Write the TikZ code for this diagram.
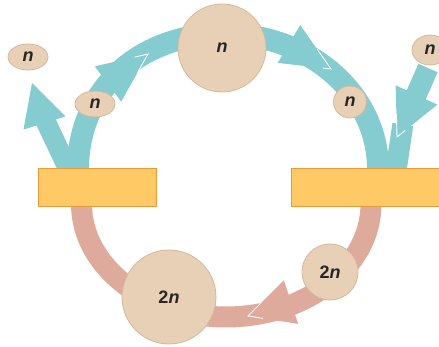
\documentclass[tikz,border=0pt]{standalone}
\usepackage{fontspec}
\setmainfont{Liberation Sans}
\usetikzlibrary{shapes.geometric,calc}
\definecolor{tealb}{RGB}{132,204,207}
\definecolor{pinkb}{RGB}{222,170,155}
\definecolor{tanf}{RGB}{232,208,182}
\definecolor{tand}{RGB}{212,184,154}
\definecolor{rectf}{RGB}{255,201,102}
\definecolor{rectd}{RGB}{232,154,60}
\pgfdeclarelayer{background}
\pgfsetlayers{background,main}
\begin{document}
\begin{tikzpicture}[x=1pt,y=-1pt,
  tband/.style={draw=tealb,line width=22pt},
  pband/.style={draw=pinkb,line width=21pt},
  ball/.style={circle,fill=tanf,draw=tand,line width=0.8pt,inner sep=0pt,text=black!85,font=\bfseries\fontsize{18}{18}\selectfont},
  egg/.style={ellipse,fill=tanf,draw=tand,line width=0.8pt,inner sep=0pt,text=black!85,font=\bfseries\fontsize{18}{18}\selectfont},
  slab/.style={rectangle,fill=rectf,draw=rectd,line width=0.8pt,inner sep=0pt,minimum height=38pt},
  hl/.style={draw=white,line width=0.9pt,line join=miter}]
\useasboundingbox (0,0) rectangle (439,347);
% nodes
\node[slab,minimum width=118pt] (L) at (97,187) {};
\node[slab,minimum width=150pt] (R) at (366,187) {};
\node[ball,minimum size=88pt] (N1) at (222,48) {\textit{n}};
\node[ball,minimum size=94pt] (B2) at (169,297) {2\textit{n}};
\node[ball,minimum size=56pt] (S2) at (330,272) {2\textit{n}};
\node[egg,minimum width=40pt,minimum height=26pt] (N0) at (28,57) {\textit{n}};
\node[egg,minimum width=40pt,minimum height=26pt] (N2) at (95,104) {\textit{n}};
\node[egg,minimum width=33pt,minimum height=32pt] (N3) at (350,102) {\textit{n}};
\node[egg,minimum width=36pt,minimum height=30pt] (N4) at (430,50) {\textit{n}};
% coordinates
\coordinate (a0) at ($(L.north west)!0.34!(L.north east)+(0,2)$);
\coordinate (a1) at ($(R.north west)!0.58!(R.north east)+(0,2)$);
\coordinate (top) at (224,34);
\coordinate (p0) at ($(L.south west)!0.37!(L.south east)+(0,-2)$);
\coordinate (p1) at ($(R.south west)!0.533!(R.south east)+(0,-2)$);
\coordinate (bot) at (226,317);
\coordinate (lb0) at ($(L.north west)!0.26!(L.north east)+(0,2)$);
\coordinate (lbB) at (44.5,123);
\coordinate (lbT) at (32,83);
\coordinate (riS) at (428,68);
\coordinate (riB) at (416.5,95);
\coordinate (riT) at (397,137);
\coordinate (ri1) at ($(R.north west)!0.70!(R.north east)+(0,2)$);
\coordinate (B1) at (108,84);
\coordinate (T1) at (148,54);
\coordinate (B3) at (289,44);
\coordinate (T3) at (331,69);
\coordinate (B4) at (291,302);
\coordinate (T4) at (248,316);
\begin{pgfonlayer}{background}
% teal cycle part
\draw[tband] (a0) .. controls +(0,-79) and +(-86,0) .. (top) .. controls +(85,0) and +(0,-76) .. (a1);
% pink cycle part
\draw[pband] (p0) .. controls +(0,62) and +(-79,0) .. (bot) .. controls +(80,0) and +(0,62) .. (p1);
% left branch (outgoing)
\draw[tband,line width=20pt] (lb0) -- ($(lbB)!0.3!(lbT)$);
\fill[tealb] (lbT) -- ($(lbB)!22pt!90:(lbT)$) -- ($(lbB)!22pt!-90:(lbT)$) -- cycle;
% right branch (incoming)
\draw[tband,line width=21pt] (riS) -- ($(riB)!0.3!(riT)$);
\draw[tband,line width=21pt] ($(riB)!0.7!(riT)$) -- (ri1);
\fill[tealb] (riT) -- ($(riB)!23pt!90:(riT)$) -- ($(riB)!23pt!-90:(riT)$) -- cycle;
\draw[hl] ($(riT)!0.45!($(riB)!23pt!-90:(riT)$)$) -- (riT) -- ($(riT)!0.2!($(riB)!23pt!90:(riT)$)$);
% arrowheads on the cycle
\fill[tealb] (T1) -- ($(B1)!22pt!90:(T1)$) -- ($(B1)!22pt!-90:(T1)$) -- cycle;
\draw[hl] ($(T1)!0.4!($(B1)!22pt!-90:(T1)$)$) -- (T1) -- ($(T1)!0.25!($(B1)!22pt!90:(T1)$)$);
\fill[tealb] (T3) -- ($(B3)!22pt!90:(T3)$) -- ($(B3)!22pt!-90:(T3)$) -- cycle;
\draw[hl] ($(T3)!0.45!($(B3)!22pt!90:(T3)$)$) -- (T3) -- ($(T3)!0.15!($(B3)!22pt!-90:(T3)$)$);
\fill[pinkb] (T4) -- ($(B4)!23pt!90:(T4)$) -- ($(B4)!23pt!-90:(T4)$) -- cycle;
\draw[hl] ($(T4)!0.35!($(B4)!23pt!-90:(T4)$)$) -- (T4) -- ($(T4)!0.3!($(B4)!23pt!90:(T4)$)$);
\end{pgfonlayer}
\end{tikzpicture}
\end{document}
